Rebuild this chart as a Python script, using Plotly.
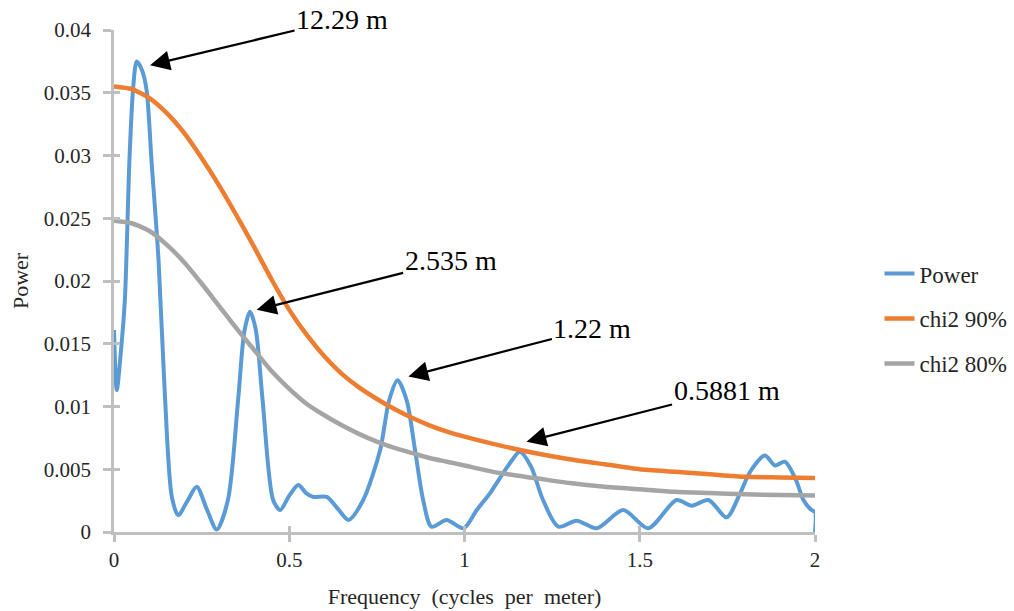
import plotly.graph_objects as go

# ---------------- data ----------------
power_freq = [0, 0.008, 0.02, 0.031, 0.044, 0.055, 0.065, 0.08, 0.093, 0.107, 0.127, 0.145,
              0.165, 0.183, 0.21, 0.236, 0.265, 0.293, 0.325, 0.354, 0.372, 0.388, 0.404,
              0.424, 0.454, 0.474, 0.5, 0.526, 0.548, 0.568, 0.607, 0.64, 0.669, 0.711, 0.759,
              0.785, 0.809, 0.835, 0.859, 0.882, 0.906, 0.949, 0.997, 1.035, 1.073, 1.101,
              1.13, 1.158, 1.19, 1.224, 1.268, 1.32, 1.377, 1.453, 1.524, 1.605, 1.648,
              1.696, 1.748, 1.785, 1.815, 1.857, 1.886, 1.914, 1.945, 1.967, 1.99, 2.0, 2.0]
power_vals = [0.0161, 0.0113, 0.0145, 0.0185, 0.0296, 0.0355, 0.0375, 0.0368, 0.0352, 0.0296,
              0.0217, 0.011, 0.0028, 0.00135, 0.0025, 0.0036, 0.0018, 0.0002, 0.00255, 0.0105,
              0.0160, 0.01755, 0.0162, 0.0105, 0.00255, 0.00175, 0.0029, 0.00375, 0.0031,
              0.0028, 0.0028, 0.0018, 0.00096, 0.00255, 0.0065, 0.0105, 0.0121, 0.0105,
              0.0065, 0.00255, 0.00042, 0.00096, 0.0003, 0.00175, 0.0031, 0.0043, 0.0055,
              0.0064, 0.0052, 0.00255, 0.00042, 0.0009, 0.0003, 0.00175, 0.0003, 0.00255,
              0.0021, 0.00255, 0.00117, 0.0030, 0.0048, 0.0061, 0.0053, 0.0056, 0.0042,
              0.00255, 0.00175, 0.0016, 0.0]

chi_freq = [0, 0.05, 0.1, 0.15, 0.2, 0.25, 0.3, 0.35, 0.4, 0.45, 0.5, 0.55, 0.6, 0.65, 0.7,
            0.75, 0.8, 0.85, 0.9, 0.95, 1.0, 1.1, 1.2, 1.3, 1.4, 1.5, 1.6, 1.7, 1.8, 1.9, 2.0]
chi2_90 = [0.0355, 0.0353, 0.0346, 0.0334, 0.0318, 0.0298, 0.0276, 0.0252, 0.0227, 0.0201,
           0.0177, 0.0157, 0.0140, 0.0126, 0.0115, 0.0106, 0.0098, 0.0091, 0.0085, 0.0080,
           0.0076, 0.0069, 0.0063, 0.0058, 0.0054, 0.0050, 0.0048, 0.0046, 0.0044, 0.00435,
           0.0043]
chi2_80 = [0.0248, 0.0246, 0.0240, 0.0229, 0.0215, 0.0198, 0.0180, 0.0162, 0.0145, 0.0128,
           0.0114, 0.0102, 0.0093, 0.0085, 0.0078, 0.0072, 0.0067, 0.0063, 0.0059, 0.0056,
           0.0053, 0.0047, 0.0043, 0.0039, 0.0036, 0.0034, 0.0032, 0.0031, 0.0030, 0.00295,
           0.0029]

y_ticks = [0, 0.005, 0.01, 0.015, 0.02, 0.025, 0.03, 0.035, 0.04]
y_labels = ["0", "0.005", "0.01", "0.015", "0.02", "0.025", "0.03", "0.035", "0.04"]
x_ticks = [0, 0.5, 1, 1.5, 2]
x_labels = ["0", "0.5", "1", "1.5", "2"]

# annotation: label, arrow-head x, arrow-head y
ann_labels = ["12.29 m", "2.535 m", "1.22 m", "0.5881 m"]
ann_x = [0.103, 0.407, 0.84, 1.177]
ann_y = [0.0372, 0.0177, 0.0124, 0.0072]
ann_ax = [192, 194, 184, 200]
ann_ay = [-46, -49, -48, -51]

FONT = "Liberation Serif, Times New Roman, serif"
AXC = "#BFBFBF"
TXT = "#262626"

fig = go.Figure()
fig.add_trace(go.Scatter(x=power_freq, y=power_vals, mode="lines", name="Power",
                         line=dict(color="#5B9BD5", width=4, shape="spline", smoothing=0.8),
                         legendgroup="a"))
fig.add_trace(go.Scatter(x=chi_freq, y=chi2_90, mode="lines", name="chi2 90%",
                         line=dict(color="#ED7D31", width=4.5, shape="spline", smoothing=0.6),
                         legendgroup="b"))
fig.add_trace(go.Scatter(x=chi_freq, y=chi2_80, mode="lines", name="chi2 80%",
                         line=dict(color="#A5A5A5", width=4.5, shape="spline", smoothing=0.6),
                         legendgroup="c"))
# invisible trace to carry the inner (cross) tick axes
fig.add_trace(go.Scatter(x=[0, 2], y=[0, 0.04], xaxis="x2", yaxis="y2", mode="lines",
                         line=dict(width=0), showlegend=False, hoverinfo="skip"))

for lab, x, y, ax, ay in zip(ann_labels, ann_x, ann_y, ann_ax, ann_ay):
    fig.add_annotation(x=x, y=y, text=lab, showarrow=True, ax=ax, ay=ay,
                       arrowhead=2, arrowsize=1.8, arrowwidth=2.2, arrowcolor="black",
                       font=dict(family=FONT, size=28, color="black"))

fig.update_layout(
    width=1014, height=611,
    margin=dict(l=114, r=199, t=30, b=79, autoexpand=False),
    plot_bgcolor="white", paper_bgcolor="white",
    font=dict(family=FONT, size=21, color=TXT),
    showlegend=True,
    legend=dict(x=1.092, y=0.425, xanchor="left", yanchor="middle",
                font=dict(family=FONT, size=23, color=TXT),
                tracegroupgap=12, traceorder="grouped", bgcolor="rgba(0,0,0,0)"),
    xaxis=dict(range=[0, 2], tickvals=x_ticks, ticktext=x_labels, showgrid=False,
               zeroline=False, showline=True, linecolor=AXC, linewidth=2.5,
               ticks="outside", ticklen=7, tickwidth=2.5, tickcolor=AXC,
               ticklabelstandoff=0, automargin=False,
               title=dict(text="Frequency\u00a0 (cycles\u00a0 per\u00a0 meter)", standoff=18,
                          font=dict(family=FONT, size=22, color=TXT))),
    yaxis=dict(range=[0, 0.04], tickvals=y_ticks, ticktext=y_labels, showgrid=False,
               zeroline=False, showline=True, linecolor=AXC, linewidth=2.5,
               ticks="outside", ticklen=8, tickwidth=2.5, tickcolor=AXC,
               ticklabelstandoff=8, automargin=False,
               title=dict(text="Power", standoff=10,
                          font=dict(family=FONT, size=22, color=TXT))),
    xaxis2=dict(range=[0, 2], overlaying="x", anchor="y2", side="bottom", tickvals=x_ticks,
                showticklabels=False, showgrid=False, zeroline=False, showline=False,
                ticks="inside", ticklen=6, tickwidth=2.5, tickcolor=AXC, automargin=False),
    yaxis2=dict(range=[0, 0.04], overlaying="y", anchor="x2", side="left", tickvals=y_ticks,
                showticklabels=False, showgrid=False, zeroline=False, showline=False,
                ticks="inside", ticklen=6, tickwidth=2.5, tickcolor=AXC, automargin=False),
)

fig.write_html("out.html")
